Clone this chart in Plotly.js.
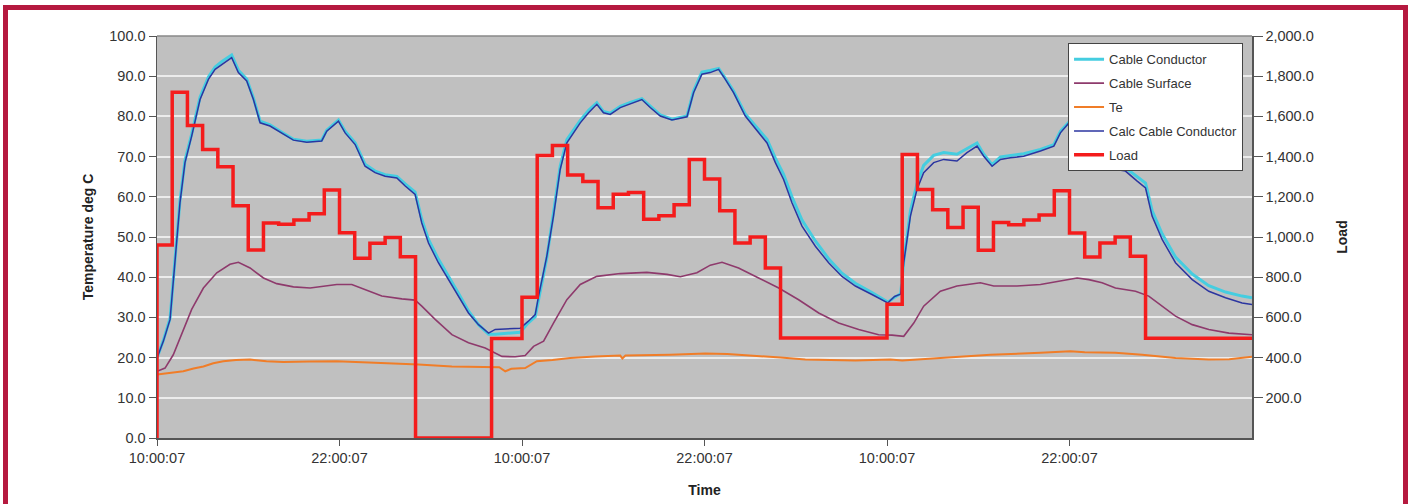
<!DOCTYPE html>
<html>
<head>
<meta charset="utf-8">
<script src="https://cdn.plot.ly/plotly-3.0.1.min.js"></script>
<style>
  html, body { margin: 0; padding: 0; background: #ffffff; overflow: hidden; }
  #wrap { position: relative; width: 1411px; height: 504px; overflow: hidden; }
  #chart { width: 1411px; height: 504px; }
  #frame { position: absolute; left: 3px; top: 5px; width: 1395px; height: 600px;
           border: 5px solid #b5193f; pointer-events: none; box-sizing: content-box; }
</style>
</head>
<body>
<div id="wrap">
  <div id="chart"></div>
  <div id="frame"></div>
</div>
<script>
// ---------- data (hours since 10:00:07 on day 1) ----------
const xTickHours  = [0, 12, 24, 36, 48, 60];
const xTickLabels = ["10:00:07", "22:00:07", "10:00:07", "22:00:07", "10:00:07", "22:00:07"];
const loadTickVals = [200, 400, 600, 800, 1000, 1200, 1400, 1600, 1800, 2000];

// Calc Cable Conductor
const calcHours = [0, 0.42, 0.86, 1.18, 1.51, 1.84, 2.28, 2.83, 3.38, 3.82, 4.25, 4.91, 5.35, 5.9, 6.34, 6.78, 7.43, 8.31, 8.97, 9.85,
  10.83, 11.16, 11.93, 12.37, 13.03, 13.68, 14.34, 15.0, 15.77, 16.32, 16.97, 17.41, 17.85, 18.5, 19.17, 19.82, 20.48, 21.14, 21.8, 22.24,
  23.88, 24.4, 24.87, 25.09, 25.63, 26.07, 26.51, 26.95, 27.39, 27.83, 28.38, 28.92, 29.36, 29.8, 30.46, 31.12, 31.88, 32.43, 33.09, 33.86,
  34.85, 35.28, 35.83, 36.37, 36.93, 37.37, 37.91, 38.68, 39.56, 40.11, 40.66, 41.2, 41.75, 42.41, 43.29, 44.16, 45.04, 45.92, 47.01, 47.89,
  48.05, 48.5, 48.9, 49.1, 49.54, 49.97, 50.41, 51.07, 51.73, 52.6, 53.26, 53.92, 54.36, 54.91, 55.46, 56.11, 56.99, 58.09, 58.97, 59.4,
  60.06, 60.5, 61.0, 61.5, 61.8, 62.36, 63.68, 64.45, 65.0, 65.43, 66.09, 66.97, 68.07, 69.16, 70.26, 71.35, 72.0];
const calcTemp = [19.9, 24.1, 29.5, 43.6, 58.5, 68.5, 75.1, 84.2, 89.2, 91.7, 92.9, 94.6, 90.9, 88.8, 84.2, 78.4, 77.6, 75.5, 74.1, 73.6,
  73.9, 76.3, 78.8, 75.9, 73.0, 67.6, 66.0, 65.1, 64.7, 62.7, 60.6, 53.5, 48.5, 43.6, 39.4, 35.3, 31.1, 28.2, 26.1, 27.0,
  27.3, 29.0, 30.7, 35.3, 45.2, 55.2, 66.8, 73.4, 75.9, 78.4, 80.9, 83.0, 80.9, 80.5, 82.2, 83.2, 84.2, 82.2, 80.1, 79.1,
  79.9, 85.9, 90.5, 90.9, 91.7, 89.2, 85.9, 80.1, 75.9, 73.4, 68.5, 64.3, 58.5, 52.7, 47.7, 43.6, 40.2, 37.8, 35.7, 34.0,
  33.6, 35.2, 35.8, 43.6, 55.2, 61.8, 66.0, 68.5, 69.3, 68.9, 71.0, 72.6, 70.1, 67.6, 69.3, 69.7, 70.1, 71.4, 72.6, 75.9,
  78.8, 79.5, 74.0, 69.5, 67.8, 67.2, 66.4, 63.9, 62.2, 55.2, 49.4, 43.6, 39.4, 36.5, 34.9, 33.6, 33.2];
// Cable Conductor (measured)
const measTemp = [19.9, 24.3, 29.8, 44.0, 59.0, 69.0, 75.6, 84.8, 89.8, 92.3, 93.6, 95.3, 91.5, 89.3, 84.6, 78.8, 77.9, 75.8, 74.3, 73.8,
  74.1, 76.6, 79.1, 76.3, 73.4, 68.1, 66.4, 65.5, 65.1, 63.2, 61.2, 54.4, 49.4, 44.5, 40.3, 36.0, 31.6, 28.2, 25.8, 25.8,
  26.3, 28.6, 30.2, 34.6, 44.8, 56.0, 67.6, 74.2, 76.6, 79.0, 81.5, 83.4, 81.2, 80.8, 82.5, 83.5, 84.4, 82.5, 80.4, 79.3,
  80.1, 86.3, 91.0, 91.4, 91.9, 89.5, 86.3, 80.6, 76.6, 74.3, 69.6, 65.6, 60.0, 54.2, 49.0, 44.6, 41.0, 38.5, 36.2, 34.3,
  33.8, 35.0, 35.9, 44.0, 56.5, 63.2, 67.8, 70.3, 71.0, 70.6, 72.0, 73.4, 70.6, 68.0, 69.9, 70.3, 70.7, 71.8, 73.0, 76.3,
  79.0, 79.8, 74.5, 70.0, 68.3, 67.8, 67.2, 65.0, 63.4, 56.6, 50.8, 45.0, 40.8, 37.9, 36.3, 35.3, 34.9];

// Cable Surface
const surfHours = [0, 0.53, 1.07, 1.73, 2.28, 3.05, 3.93, 4.8, 5.35, 6.12, 7.0, 7.87, 8.97, 10.07, 10.94, 11.82, 12.81, 13.9, 14.78, 16.1,
  16.97, 17.41, 18.29, 19.39, 20.48, 21.58, 22.68, 23.55, 24.21, 24.76, 25.42, 26.07, 26.95, 27.83, 28.92, 30.46, 32.21, 33.53, 34.41, 35.5,
  36.38, 37.15, 38.24, 39.56, 40.88, 42.19, 43.51, 44.82, 46.14, 47.45, 48.33, 49.1, 49.76, 50.41, 51.51, 52.6, 54.14, 55.02, 56.55, 58.09,
  59.62, 60.5, 61.27, 62.14, 63.02, 64.34, 65.21, 66.09, 66.97, 68.07, 69.16, 70.48, 72.0];
const surfTemp = [16.6, 17.4, 20.7, 27.0, 32.0, 37.3, 41.1, 43.2, 43.7, 42.3, 39.8, 38.4, 37.6, 37.3, 37.8, 38.2, 38.2, 36.5, 35.3, 34.6,
  34.3, 32.8, 29.5, 25.7, 23.7, 22.4, 20.3, 20.2, 20.5, 22.8, 24.1, 28.6, 34.4, 38.2, 40.2, 40.9, 41.2, 40.7, 40.1, 41.1,
  43.0, 43.7, 42.3, 39.8, 37.3, 34.4, 31.1, 28.6, 27.0, 25.7, 25.6, 25.3, 28.6, 32.8, 36.5, 37.8, 38.6, 37.8, 37.8, 38.2,
  39.3, 39.8, 39.4, 38.6, 37.3, 36.5, 35.3, 32.8, 30.3, 28.2, 27.0, 26.1, 25.7];

// Te
const teHours = [0, 0.8, 1.73, 2.4, 3.05, 3.7, 4.36, 5.2, 6.12, 7.2, 8.31, 10.0, 11.82, 13.9, 15.5, 17.19, 19.39, 21.8, 22.5, 22.9,
  23.3, 24.21, 24.98, 26.0, 27.17, 28.8, 30.46, 30.6, 30.8, 33.75, 36.05, 37.5, 39.34, 41.0, 42.63, 45.92, 48.22, 49.0, 51.51, 54.8,
  58.09, 60.06, 61.0, 63.02, 64.78, 66.97, 69.16, 70.5, 72.0];
const teTemp = [15.8, 16.2, 16.6, 17.3, 17.8, 18.6, 19.1, 19.4, 19.5, 19.1, 18.9, 19.0, 19.1, 18.8, 18.6, 18.3, 17.8, 17.7, 17.6, 16.6,
  17.2, 17.4, 19.1, 19.4, 19.9, 20.3, 20.5, 19.8, 20.5, 20.7, 21.0, 20.9, 20.5, 20.0, 19.5, 19.3, 19.5, 19.3, 19.9, 20.7,
  21.2, 21.6, 21.3, 21.2, 20.7, 19.9, 19.5, 19.6, 20.2];

// Load: one value per hour, hours 0..71
const loadHourly = [960, 1720, 1555, 1435, 1350, 1155, 935, 1070, 1063, 1085, 1116, 1234, 1021, 894, 969, 998, 902,
  0, 0, 0, 0, 0, 495, 495,
  700, 1405, 1455, 1308, 1276, 1145, 1213, 1222, 1088, 1106, 1161, 1386, 1288, 1130, 970, 1000, 846,
  498, 498, 498, 498, 498, 498, 498,
  665, 1410, 1236, 1135, 1047, 1148, 934, 1072, 1061, 1085, 1110, 1230, 1020, 900, 970, 1000, 904,
  496, 496, 496, 496, 496, 496, 496];

// ---------- build step series ----------
const loadX = [0], loadY = [0];
loadHourly.forEach((v, i) => { loadX.push(i); loadY.push(v); });
loadX.push(loadHourly.length); loadY.push(loadHourly[loadHourly.length - 1]);

const FONT = "Liberation Sans, Arial, sans-serif";
const traces = [
  { name: "Cable Conductor", x: calcHours, y: measTemp, type: "scatter", mode: "lines",
    line: { color: "#45cde0", width: 3 }, legendgroup: "a", yaxis: "y" },
  { name: "Cable Surface", x: surfHours, y: surfTemp, type: "scatter", mode: "lines",
    line: { color: "#8e3a6c", width: 1.6 }, legendgroup: "b", yaxis: "y" },
  { name: "Te", x: teHours, y: teTemp, type: "scatter", mode: "lines",
    line: { color: "#f07d28", width: 2 }, legendgroup: "c", yaxis: "y" },
  { name: "Calc Cable Conductor", x: calcHours, y: calcTemp, type: "scatter", mode: "lines",
    line: { color: "#2b35a0", width: 1.5 }, legendgroup: "d", yaxis: "y" },
  { name: "Load", x: loadX, y: loadY, type: "scatter", mode: "lines",
    line: { color: "#f41c1c", width: 3.5, shape: "hv" }, legendgroup: "e", yaxis: "y2" }
];

const layout = {
  width: 1411, height: 504,
  margin: { l: 157, r: 159, t: 36, b: 66, pad: 0 },
  paper_bgcolor: "#ffffff",
  plot_bgcolor: "#c0c0c0",
  font: { family: FONT, size: 14, color: "#333333" },
  showlegend: true,
  legend: {
    x: 0.832, y: 0.982, xanchor: "left", yanchor: "top",
    bgcolor: "#ffffff", bordercolor: "#444444", borderwidth: 1,
    font: { family: FONT, size: 13, color: "#333333" },
    traceorder: "grouped", tracegroupgap: 4
  },
  xaxis: {
    range: [0, 72], tickvals: xTickHours, ticktext: xTickLabels,
    showgrid: false, zeroline: false,
    showline: true, linecolor: "#555555", linewidth: 1.5, mirror: false,
    ticks: "outside", ticklen: 6, tickcolor: "#555555",
    tickfont: { family: FONT, size: 14.5, color: "#333333" },
    title: { text: "<b>Time</b>", font: { family: FONT, size: 14, color: "#222222" }, standoff: 20 }
  },
  yaxis: {
    range: [0, 100], dtick: 10, tick0: 0, tickformat: ".1f",
    showgrid: true, gridcolor: "#ececec", gridwidth: 2,
    zeroline: false, showline: true, linecolor: "#555555", linewidth: 1.5,
    ticks: "outside", ticklen: 7, tickcolor: "#555555",
    tickfont: { family: FONT, size: 14.5, color: "#333333" },
    title: { text: "<b>Temperature deg C</b>", font: { family: FONT, size: 14, color: "#222222" }, standoff: 12 }
  },
  yaxis2: {
    range: [0, 2000], overlaying: "y", side: "right", tickvals: loadTickVals, tickformat: ",.1f",
    showgrid: false, zeroline: false, showline: true, linecolor: "#555555", linewidth: 1.5,
    ticks: "outside", ticklen: 9, tickcolor: "#555555",
    tickfont: { family: FONT, size: 14.5, color: "#333333" },
    title: { text: "<b>Load</b>", font: { family: FONT, size: 14, color: "#222222" }, standoff: 24 }
  },
  shapes: [
    { type: "line", xref: "paper", yref: "paper", x0: 0, x1: 1, y0: 1, y1: 1,
      line: { color: "#888888", width: 1.5 } }
  ]
};

Plotly.newPlot("chart", traces, layout, { staticPlot: true, displayModeBar: false });
</script>
</body>
</html>
